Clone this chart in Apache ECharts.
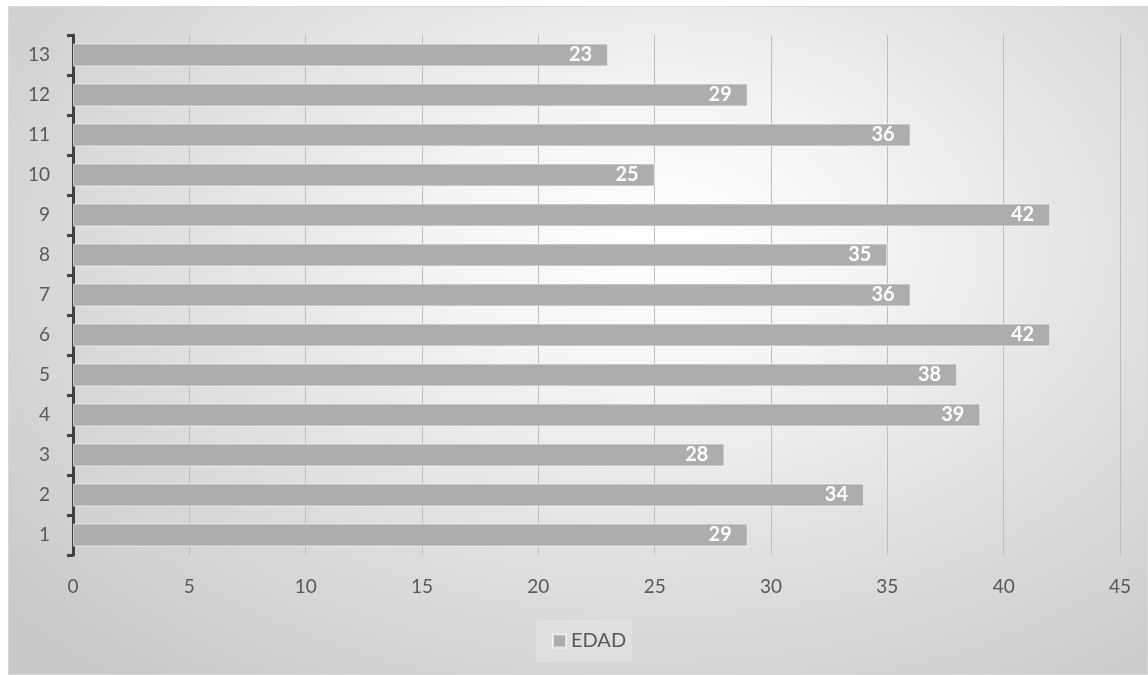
<!DOCTYPE html>
<html>
<head>
<meta charset="utf-8">
<script src="https://cdn.jsdelivr.net/npm/echarts@6/dist/echarts.min.js"></script>
<style>
  html, body { margin: 0; padding: 0; background: #fff; }
  #frame {
    position: absolute; left: 8px; top: 6px; width: 1140px; height: 669px;
    box-sizing: border-box; border: 1px solid #d9d9d9;
    background: radial-gradient(ellipse 75% 85% at 57% 35%, #ffffff 0%, #f4f4f4 25%, #dedede 60%, #c8c8c8 100%);
  }
  #chart { position: absolute; left: 0; top: 0; width: 1148px; height: 675px; }
</style>
</head>
<body>
<div id="frame"></div>
<div id="chart"></div>
<script>
// categorías (de abajo hacia arriba) y valores
const categories = ['1', '2', '3', '4', '5', '6', '7', '8', '9', '10', '11', '12', '13'];
const edad = [29, 34, 28, 39, 38, 42, 36, 35, 42, 25, 36, 29, 23];
const seriesName = 'EDAD';

const chart = echarts.init(document.getElementById('chart'));
const font = 'Lato, "Open Sans", sans-serif';

chart.setOption({
  backgroundColor: 'transparent',
  textStyle: { fontFamily: font },
  grid: { left: 73, right: 28, top: 35, bottom: 120, containLabel: false },
  legend: {
    data: [seriesName],
    bottom: 13,
    left: 536,
    icon: 'rect',
    itemWidth: 13,
    itemHeight: 13,
    itemGap: 7,
    padding: [11, 6, 11, 16],
    backgroundColor: 'rgba(255,255,255,0.2)',
    textStyle: { color: '#595959', fontSize: 20, fontFamily: font }
  },
  xAxis: {
    type: 'value',
    min: 0,
    max: 45,
    interval: 5,
    axisLine: { show: false },
    axisTick: { show: false },
    axisLabel: { color: '#595959', fontSize: 19, margin: 22, fontFamily: font },
    splitLine: { show: true, lineStyle: { color: '#bdbdbd', width: 1 } }
  },
  yAxis: {
    type: 'category',
    data: categories,
    axisLine: { show: true, lineStyle: { color: '#404040', width: 3 } },
    axisTick: { show: true, length: 6, lineStyle: { color: '#404040', width: 3 } },
    axisLabel: { color: '#595959', fontSize: 19, margin: 23, fontFamily: font }
  },
  series: [{
    name: seriesName,
    type: 'bar',
    data: edad,
    barWidth: 23,
    itemStyle: { color: '#adadad', borderColor: 'rgba(255,255,255,0.6)', borderWidth: 1 },
    label: {
      show: true,
      position: 'insideRight',
      distance: 16,
      color: '#ffffff',
      fontWeight: 'bold',
      fontSize: 20,
      fontFamily: font
    },
    z: 3
  }]
});
</script>
</body>
</html>
